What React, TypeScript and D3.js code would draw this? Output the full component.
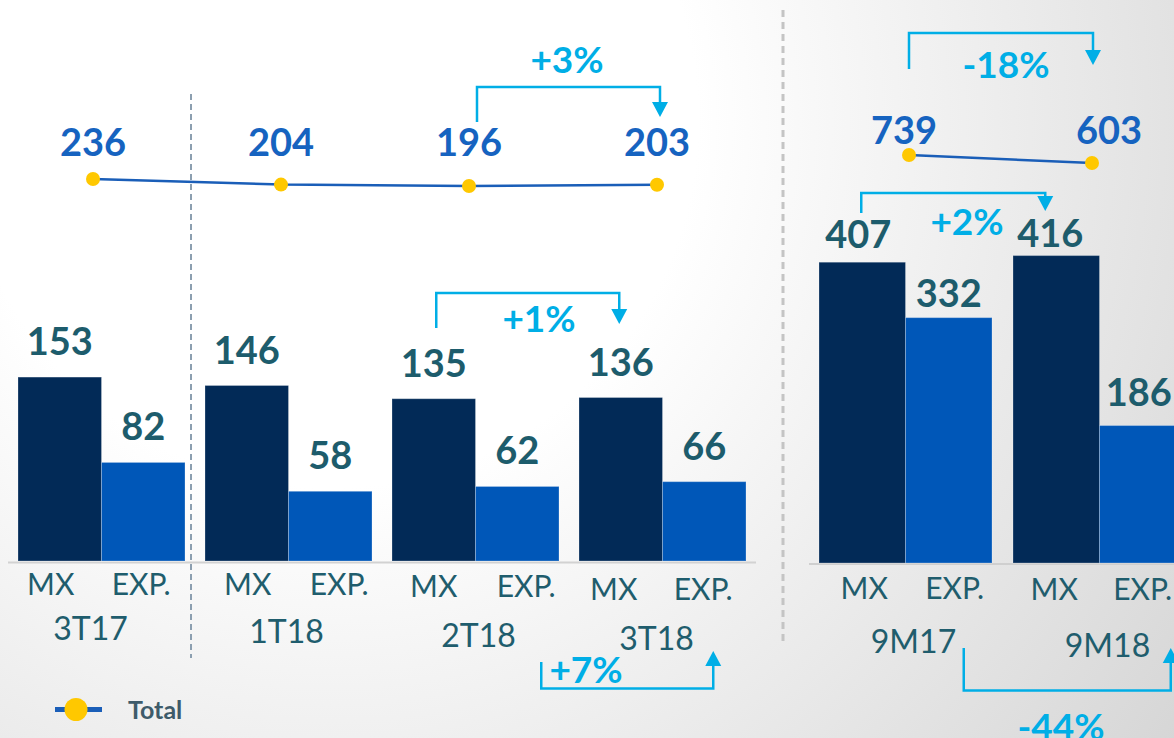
import React from 'react';
import * as d3 from 'd3';

// ---------- data ----------
const seriesKeys = ['MX', 'EXP.'];
const leftPeriods = ['3T17', '1T18', '2T18', '3T18'];
const leftMX = [153, 146, 135, 136];
const leftEXP = [82, 58, 62, 66];
const leftTotal = [236, 204, 196, 203];
const rightPeriods = ['9M17', '9M18'];
const rightMX = [407, 416];
const rightEXP = [332, 186];
const rightTotal = [739, 603];
const legendLabel = 'Total';
const changeLabels = ['+3%', '+1%', '+7%', '-18%', '+2%', '-44%'];

// ---------- layout / style ----------
const W = 1174;
const H = 738;
const FONT = "Lato, 'Open Sans', sans-serif";
const C_MX = '#022a57';
const C_EXP = '#0057b8';
const C_LINE = '#1a5eb8';
const C_DOT = '#ffc800';
const C_VAL = '#1d5c6c';
const C_TOT = '#1663c0';
const C_ARROW = '#00aee6';
const C_AXIS = '#1f5d6d';

const leftSeriesBase = [595, 595, 597, 600];
const leftSeriesDx = [[-9, -2], [1, 9], [0, 9], [-7, -1]];
const leftPeriodBase = [640, 643, 647, 650];
const leftPeriodDx = [-11, -2, 3, -6];
const rightSeriesBase = [599, 600];
const rightSeriesDx = [[2, 6], [-2, 0]];
const rightPeriodBase = [653, 657];
const rightPeriodDx = [8, 8];
const rightValGap = [[14, 11], [9, 20]];
const rightValDx = [[-4, 0], [-6, -4]];

function Bracket({ x1, x2, yStart, yBar, yEnd }: any) {
  const dir = yEnd > yBar ? 1 : -1;
  const headLen = 15;
  const hw = 8;
  const stemEnd = yEnd - dir * headLen;
  const d = `M${x1},${yStart}V${yBar}H${x2}V${stemEnd}`;
  const tri = `M${x2 - hw},${stemEnd}L${x2 + hw},${stemEnd}L${x2},${yEnd}Z`;
  return (
    <g>
      <path d={d} fill="none" stroke={C_ARROW} strokeWidth={2.5} />
      <path d={tri} fill={C_ARROW} />
    </g>
  );
}

export default function App() {
  const xL = d3.scaleBand<string>().domain(leftPeriods).range([18, 746]).paddingInner(20 / 187);
  const xR = d3.scaleBand<string>().domain(rightPeriods).range([819, 1186]).paddingInner(21 / 194);
  const xInL = d3.scaleBand<string>().domain(seriesKeys).range([0, xL.bandwidth()]);
  const xInR = d3.scaleBand<string>().domain(seriesKeys).range([0, xR.bandwidth()]);
  const yL = d3.scaleLinear().domain([0, 100]).range([561, 561 - 120.2]);
  const yR = d3.scaleLinear().domain([0, 100]).range([563, 563 - 73.9]);

  const lxL = d3.scalePoint<string>().domain(leftPeriods).range([93, 657]);
  const lyL = d3.scaleLinear().domain([196, 236]).range([186, 179]);
  const lxR = d3.scalePoint<string>().domain(rightPeriods).range([909, 1092]);
  const lyR = d3.scaleLinear().domain([603, 739]).range([163, 155]);

  const lineGen = d3.line<[number, number]>().x((d) => d[0]).y((d) => d[1]);
  const leftPts: [number, number][] = leftPeriods.map((p, i) => [lxL(p)!, lyL(leftTotal[i])]);
  const rightPts: [number, number][] = rightPeriods.map((p, i) => [lxR(p)!, lyR(rightTotal[i])]);

  const leftVals = [leftMX, leftEXP];
  const rightVals = [rightMX, rightEXP];

  const cL = (p: string, k: string) => xL(p)! + xInL(k)! + xInL.bandwidth() / 2;
  const cR = (p: string, k: string) => xR(p)! + xInR(k)! + xInR.bandwidth() / 2;

  const bars: any[] = [];
  const labels: any[] = [];
  leftPeriods.forEach((p, i) => {
    seriesKeys.forEach((k, j) => {
      const v = leftVals[j][i];
      bars.push(
        <rect key={`lb${i}${j}`} x={xL(p)! + xInL(k)!} y={yL(v)} width={xInL.bandwidth()} height={yL(0) - yL(v)}
          fill={j === 0 ? C_MX : C_EXP} stroke="rgba(255,255,255,0.25)" strokeWidth={1} />
      );
      labels.push(
        <text key={`lv${i}${j}`} x={cL(p, k)} y={yL(v) - 22} textAnchor="middle" fontFamily={FONT}
          fontWeight={700} fontSize={38} fill={C_VAL}>{v}</text>
      );
      labels.push(
        <text key={`lk${i}${j}`} x={cL(p, k) + leftSeriesDx[i][j]} y={leftSeriesBase[i]} textAnchor="middle" fontFamily={FONT}
          fontSize={30} fill={C_AXIS}>{k}</text>
      );
    });
    labels.push(
      <text key={`lp${i}`} x={xL(p)! + xL.bandwidth() / 2 + leftPeriodDx[i]} y={leftPeriodBase[i]} textAnchor="middle"
        fontFamily={FONT} fontSize={32} fill={C_AXIS}>{p}</text>
    );
  });
  rightPeriods.forEach((p, i) => {
    seriesKeys.forEach((k, j) => {
      const v = rightVals[j][i];
      bars.push(
        <rect key={`rb${i}${j}`} x={xR(p)! + xInR(k)!} y={yR(v)} width={xInR.bandwidth()} height={yR(0) - yR(v)}
          fill={j === 0 ? C_MX : C_EXP} stroke="rgba(255,255,255,0.25)" strokeWidth={1} />
      );
      labels.push(
        <text key={`rv${i}${j}`} x={cR(p, k) + rightValDx[i][j]} y={yR(v) - rightValGap[i][j]} textAnchor="middle" fontFamily={FONT}
          fontWeight={700} fontSize={38} fill={C_VAL}>{v}</text>
      );
      labels.push(
        <text key={`rk${i}${j}`} x={cR(p, k) + rightSeriesDx[i][j]} y={rightSeriesBase[i]} textAnchor="middle" fontFamily={FONT}
          fontSize={30} fill={C_AXIS}>{k}</text>
      );
    });
    labels.push(
      <text key={`rp${i}`} x={xR(p)! + xR.bandwidth() / 2 + rightPeriodDx[i]} y={rightPeriodBase[i]} textAnchor="middle"
        fontFamily={FONT} fontSize={32} fill={C_AXIS}>{p}</text>
    );
  });

  const pctStyle = { fontFamily: FONT, fontWeight: 700, fontSize: 37, fill: C_ARROW } as any;

  return (
    <svg width={W} height={H} style={{ position: 'absolute', left: 0, top: 0, display: 'block' }}>
      <defs>
        <radialGradient id="bg" gradientUnits="userSpaceOnUse" cx={330} cy={120} r={1050}>
          <stop offset="0.35" stopColor="#ffffff" />
          <stop offset="1" stopColor="#d6d6d6" />
        </radialGradient>
      </defs>
      <rect x={0} y={0} width={W} height={H} fill="url(#bg)" />

      {/* baselines */}
      <line x1={8} x2={756} y1={562.5} y2={562.5} stroke="#d2d2d2" strokeWidth={2} />
      <line x1={809} x2={W} y1={564} y2={564} stroke="#cfcfcf" strokeWidth={2} />

      {/* dividers */}
      <line x1={191} x2={191} y1={94} y2={658} stroke="#8c9fb0" strokeWidth={2} strokeDasharray="6 4" />
      <line x1={783} x2={783} y1={10} y2={645} stroke="#c4c4c4" strokeWidth={3} strokeDasharray="7 5" />

      {bars}
      {labels}

      {/* total lines */}
      <path d={lineGen(leftPts)!} fill="none" stroke={C_LINE} strokeWidth={2.5} />
      <path d={lineGen(rightPts)!} fill="none" stroke={C_LINE} strokeWidth={2.5} />
      {leftPts.concat(rightPts).map((pt, i) => (
        <circle key={`d${i}`} cx={pt[0]} cy={pt[1]} r={7} fill={C_DOT} />
      ))}
      {leftPeriods.map((p, i) => (
        <text key={`lt${i}`} x={lxL(p)!} y={156} textAnchor="middle" fontFamily={FONT} fontWeight={700}
          fontSize={38} fill={C_TOT}>{leftTotal[i]}</text>
      ))}
      {rightPeriods.map((p, i) => (
        <text key={`rt${i}`} x={lxR(p)! + (i === 0 ? -5 : 17)} y={144} textAnchor="middle" fontFamily={FONT} fontWeight={700}
          fontSize={38} fill={C_TOT}>{rightTotal[i]}</text>
      ))}

      {/* change annotations */}
      <Bracket x1={lxL('2T18')! + 8} x2={lxL('3T18')! + 3} yStart={122} yBar={87} yEnd={117} />
      <text x={567} y={73} textAnchor="middle" style={pctStyle}>{changeLabels[0]}</text>

      <Bracket x1={cL('2T18', 'MX') + 2.5} x2={cL('3T18', 'MX') - 1.5} yStart={328} yBar={293} yEnd={324} />
      <text x={539} y={332} textAnchor="middle" style={pctStyle}>{changeLabels[1]}</text>

      <Bracket x1={cL('2T18', 'EXP.') + 24} x2={cL('3T18', 'EXP.') + 9} yStart={662} yBar={688.5} yEnd={651} />
      <text x={586} y={683} textAnchor="middle" style={pctStyle}>{changeLabels[2]}</text>

      <Bracket x1={lxR('9M17')!} x2={lxR('9M18')! + 1} yStart={69} yBar={33} yEnd={65} />
      <text x={1006} y={78} textAnchor="middle" style={pctStyle}>{changeLabels[3]}</text>

      <Bracket x1={cR('9M17', 'MX') - 1} x2={cR('9M18', 'MX') - 11} yStart={213} yBar={193} yEnd={211} />
      <text x={967} y={235} textAnchor="middle" style={pctStyle}>{changeLabels[4]}</text>

      <Bracket x1={cR('9M17', 'EXP.') + 15} x2={cR('9M18', 'EXP.') + 28} yStart={648} yBar={690.5} yEnd={648} />
      <text x={1061} y={740} textAnchor="middle" style={pctStyle}>{changeLabels[5]}</text>

      {/* legend */}
      <line x1={55} x2={102} y1={709.5} y2={709.5} stroke={C_LINE} strokeWidth={5} />
      <circle cx={76} cy={709.5} r={11.5} fill={C_DOT} />
      <text x={128} y={719} fontFamily={FONT} fontWeight={700} fontSize={25} fill="#3e5b6a">{legendLabel}</text>
    </svg>
  );
}
